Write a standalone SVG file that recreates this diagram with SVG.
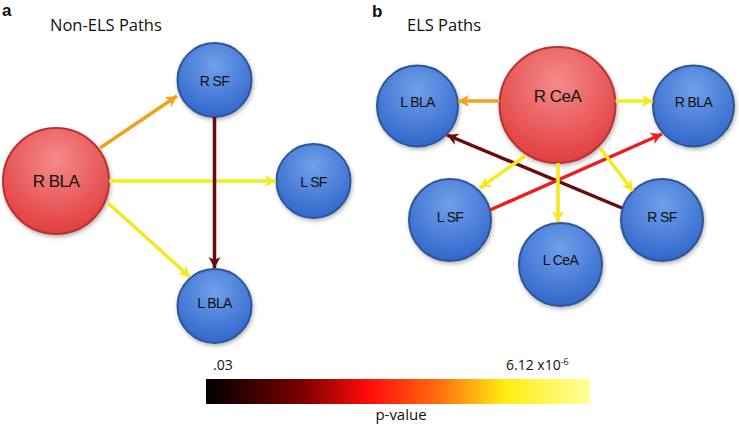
<svg xmlns="http://www.w3.org/2000/svg" width="739" height="425" viewBox="0 0 739 425">
<style>
text{font-family:"Liberation Sans",Arial,sans-serif;fill:#111}
.blue{fill:url(#gBlue);stroke:#2f5597;stroke-width:2}
.red{fill:url(#gRed);stroke:#b83232;stroke-width:2}
.lbl{font-size:14px;text-anchor:middle;letter-spacing:-0.6px}
.big{font-size:17px;text-anchor:middle;letter-spacing:-0.5px}
.title{font-family:"Open Sans","Liberation Sans",sans-serif;font-size:16.5px}
.pl{font-family:"Liberation Sans",Arial,sans-serif;font-weight:bold;font-size:17px}
.leg{font-family:"Open Sans","Liberation Sans",sans-serif;font-size:14px}
.c{fill:none;stroke-width:3.5}
</style>
<defs>
<radialGradient id="gBlue" cx="0.5" cy="0.3" r="0.75">
<stop offset="0" stop-color="#6fa0ea"/><stop offset="1" stop-color="#2e63c9"/>
</radialGradient>
<radialGradient id="gRed" cx="0.5" cy="0.3" r="0.75">
<stop offset="0" stop-color="#f58a8a"/><stop offset="1" stop-color="#e0393a"/>
</radialGradient>
<linearGradient id="gBar" x1="0" x2="1" y1="0" y2="0">
<stop offset="0" stop-color="#000"/><stop offset="0.25" stop-color="#7a0000"/><stop offset="0.42" stop-color="#ff0a0a"/><stop offset="0.6" stop-color="#ff6a10"/><stop offset="0.78" stop-color="#ffee10"/><stop offset="1" stop-color="#ffffa0"/>
</linearGradient>
<filter id="sh" x="-20%" y="-20%" width="150%" height="150%"><feDropShadow dx="1" dy="2" stdDeviation="2" flood-color="#000" flood-opacity="0.3"/></filter>
<marker id="mO" markerUnits="userSpaceOnUse" markerWidth="14" markerHeight="14" refX="11" refY="6.5" orient="auto"><path d="M0,0.5 L11,6.5 L0,12.5 L3,6.5 z" fill="#f0a21f"/></marker>
<marker id="mY" markerUnits="userSpaceOnUse" markerWidth="14" markerHeight="14" refX="11" refY="6.5" orient="auto"><path d="M0,0.5 L11,6.5 L0,12.5 L3,6.5 z" fill="#f2ea1c"/></marker>
<marker id="mD" markerUnits="userSpaceOnUse" markerWidth="14" markerHeight="14" refX="11" refY="6.5" orient="auto"><path d="M0,0.5 L11,6.5 L0,12.5 L3,6.5 z" fill="#6a0b0b"/></marker>
<marker id="mR" markerUnits="userSpaceOnUse" markerWidth="14" markerHeight="14" refX="11" refY="6.5" orient="auto"><path d="M0,0.5 L11,6.5 L0,12.5 L3,6.5 z" fill="#ee1c1c"/></marker>
</defs>
<rect width="739" height="425" fill="#fff"/>
<text class="pl" x="2" y="16">a</text>
<text class="title" x="50" y="31">Non-ELS Paths</text>
<text class="pl" x="372" y="17">b</text>
<text class="title" x="407" y="31">ELS Paths</text>

<g id="nodes-a">
<g id="a-RBLA"><circle class="red" filter="url(#sh)" cx="56" cy="181" r="53"/><text class="big" x="56" y="187">R BLA</text></g>
<g id="a-RSF"><circle class="blue" filter="url(#sh)" cx="214.5" cy="80" r="37"/><text class="lbl" x="214.5" y="86">R SF</text></g>
<g id="a-LSF"><circle class="blue" filter="url(#sh)" cx="313.5" cy="181" r="37"/><text class="lbl" x="313.5" y="187">L SF</text></g>
<g id="a-LBLA"><circle class="blue" filter="url(#sh)" cx="214.5" cy="306" r="37"/><text class="lbl" x="214.5" y="308">L BLA</text></g>
</g>
<g id="nodes-b">
<g id="b-RCeA"><circle class="red" filter="url(#sh)" cx="557.5" cy="105" r="58"/><text class="big" x="557.5" y="102">R CeA</text></g>
<g id="b-LBLA"><circle class="blue" filter="url(#sh)" cx="417.5" cy="106" r="40.5"/><text class="lbl" x="417.5" y="107">L BLA</text></g>
<g id="b-RBLA"><circle class="blue" filter="url(#sh)" cx="693.5" cy="106" r="40.5"/><text class="lbl" x="693.5" y="107">R BLA</text></g>
<g id="b-LSF"><circle class="blue" filter="url(#sh)" cx="450" cy="220" r="41"/><text class="lbl" x="450" y="222">L SF</text></g>
<g id="b-LCeA"><circle class="blue" filter="url(#sh)" cx="560.5" cy="264.5" r="41.5"/><text class="lbl" x="560.5" y="265">L CeA</text></g>
<g id="b-RSF"><circle class="blue" filter="url(#sh)" cx="662" cy="220" r="41"/><text class="lbl" x="662" y="222">R SF</text></g>
</g>

<g id="connectors">
<line class="c" x1="100" y1="148" x2="177" y2="96" stroke="#f0a21f" marker-end="url(#mO)"/>
<line class="c" x1="109" y1="181" x2="276" y2="181" stroke="#f2ea1c" marker-end="url(#mY)"/>
<line class="c" x1="108" y1="203" x2="190" y2="277" stroke="#f2ea1c" marker-end="url(#mY)"/>
<line class="c" x1="214.5" y1="117" x2="214.5" y2="268" stroke="#6a0b0b" marker-end="url(#mD)"/>

<line class="c" x1="622" y1="208" x2="447" y2="135" stroke="#6a0b0b" marker-end="url(#mD)"/>
<line class="c" x1="490" y1="210" x2="662" y2="134" stroke="#ee1c1c" marker-end="url(#mR)"/>
<line class="c" x1="499.5" y1="101" x2="458" y2="101" stroke="#f0a21f" marker-end="url(#mO)"/>
<line class="c" x1="615.5" y1="101" x2="653" y2="101" stroke="#f2ea1c" marker-end="url(#mY)"/>
<line class="c" x1="525" y1="156" x2="480" y2="188" stroke="#f2ea1c" marker-end="url(#mY)"/>
<line class="c" x1="558" y1="163" x2="558" y2="222" stroke="#f2ea1c" marker-end="url(#mY)"/>
<line class="c" x1="600" y1="148" x2="633" y2="191" stroke="#f2ea1c" marker-end="url(#mY)"/>
</g>

<g id="legend">
<rect x="206" y="379" width="384" height="25" fill="url(#gBar)"/>
<text class="leg" x="213" y="370">.03</text>
<text class="leg" x="506" y="370">6.12 x10<tspan dy="-5" font-size="9">-6</tspan></text>
<text class="leg" x="401" y="420" text-anchor="middle" style="font-size:15px">p-value</text>
</g>
</svg>
